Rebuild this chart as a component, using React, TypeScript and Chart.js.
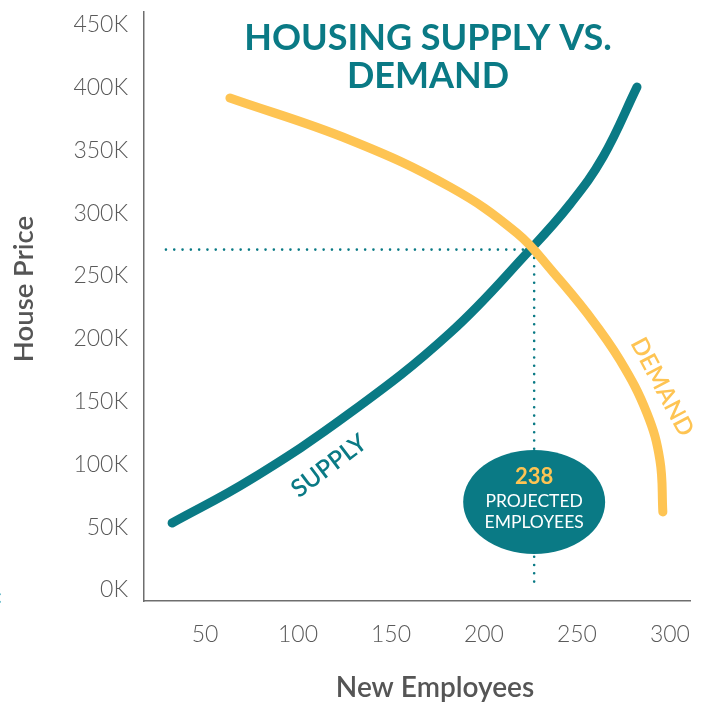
import React, { useEffect, useRef } from "react";
import { Chart, registerables } from "chart.js";

Chart.register(...registerables);

const xTicks = [50, 100, 150, 200, 250, 300];
const yTicks = [0, 50000, 100000, 150000, 200000, 250000, 300000, 350000, 400000, 450000];

const supplyX = [32.3, 74.2, 128, 181.7, 224.7, 246.2, 264, 282.3];
const supplyY = [53300, 87600, 140900, 204600, 270700, 307000, 344700, 400500];

const demandX = [63.4, 128, 181.7, 217.7, 237.1, 255.4, 273.1, 287.6, 294.6, 296.2];
const demandY = [391700, 358300, 320900, 284200, 253200, 220500, 183100, 140900, 103500, 62100];

const equilibriumX = 227;
const equilibriumY = 271000;
const guideStartX = 29;
const guideEndY = 6400;
const projectedEmployees = "238";
const bubbleY = 70000;

const TEAL = "#0a7a85";
const YELLOW = "#fec453";
const GRAY = "#5a5a5a";
const FONT = 'Lato, "Open Sans", sans-serif';

export default function App() {
  const ref = useRef<HTMLCanvasElement | null>(null);

  useEffect(() => {
    document.body.style.margin = "0";
    const canvas = ref.current;
    if (!canvas) return;

    const overlay = {
      id: "overlay",
      afterDatasetsDraw(chart: any) {
        const ctx = chart.ctx;
        const xs = chart.scales.x;
        const ys = chart.scales.y;
        ctx.save();
        // bubble
        const cx = xs.getPixelForValue(equilibriumX);
        const cy = ys.getPixelForValue(bubbleY);
        ctx.fillStyle = TEAL;
        ctx.beginPath();
        ctx.ellipse(cx, cy, 71, 52, 0, 0, Math.PI * 2);
        ctx.fill();
        ctx.textAlign = "center";
        ctx.textBaseline = "middle";
        ctx.fillStyle = YELLOW;
        ctx.font = `bold 22px ${FONT}`;
        ctx.fillText(projectedEmployees, cx, cy - 25);
        ctx.fillStyle = "#ffffff";
        ctx.font = `17.5px ${FONT}`;
        ctx.fillText("PROJECTED", cx, cy - 1);
        ctx.fillText("EMPLOYEES", cx, cy + 20);

        // title
        ctx.fillStyle = TEAL;
        ctx.font = `bold 36px ${FONT}`;
        ctx.fillText("HOUSING SUPPLY VS.", 428, 38);
        ctx.fillText("DEMAND", 428, 76);

        // curve labels
        ctx.font = `600 24.5px ${FONT}`;
        ctx.save();
        ctx.translate(329, 466);
        ctx.rotate((-37 * Math.PI) / 180);
        ctx.fillText("SUPPLY", 0, 0);
        ctx.restore();

        ctx.fillStyle = YELLOW;
        ctx.font = `600 24px ${FONT}`;
        ctx.save();
        ctx.translate(662, 387);
        ctx.rotate((62 * Math.PI) / 180);
        ctx.fillText("DEMAND", 0, 0);
        ctx.restore();

        // axis titles
        ctx.fillStyle = "#555555";
        ctx.font = `600 28px ${FONT}`;
        ctx.fillText("New Employees", 435, 688);
        ctx.save();
        ctx.translate(24, 289);
        ctx.rotate(-Math.PI / 2);
        ctx.font = `600 27.5px ${FONT}`;
        ctx.fillText("House Price", 0, 0);
        ctx.restore();

        ctx.fillStyle = "#3aa6b9";
        ctx.font = `20px ${FONT}`;
        ctx.textAlign = "left";
        ctx.fillText(":", -3, 597);
        ctx.restore();
      },
    };

    const chart = new Chart(canvas, {
      type: "line",
      data: {
        datasets: [
          {
            data: demandX.map((x, i) => ({ x, y: demandY[i] })),
            borderColor: YELLOW,
            borderWidth: 9,
            borderCapStyle: "round",
            borderJoinStyle: "round",
            pointRadius: 0,
            tension: 0.4,
            fill: false,
          },
          {
            data: supplyX.map((x, i) => ({ x, y: supplyY[i] })),
            borderColor: TEAL,
            borderWidth: 9,
            borderCapStyle: "round",
            borderJoinStyle: "round",
            pointRadius: 0,
            tension: 0.4,
            fill: false,
          },
          {
            data: [
              { x: guideStartX, y: equilibriumY },
              { x: equilibriumX, y: equilibriumY },
            ],
            borderColor: TEAL,
            borderWidth: 2.6,
            borderDash: [0, 8.3],
            borderCapStyle: "round",
            pointRadius: 0,
            tension: 0,
          },
          {
            data: [
              { x: equilibriumX, y: equilibriumY },
              { x: equilibriumX, y: guideEndY },
            ],
            borderColor: TEAL,
            borderWidth: 2.6,
            borderDash: [0, 8.3],
            borderCapStyle: "round",
            pointRadius: 0,
            tension: 0,
          },
        ],
      },
      options: {
        animation: false,
        responsive: false,
        layout: { padding: { top: 12, right: 18, left: 0, bottom: 0 } },
        plugins: { legend: { display: false }, tooltip: { enabled: false }, title: { display: false } },
        scales: {
          x: {
            type: "linear",
            min: 17.2,
            max: 310.8,
            grid: { display: false, drawTicks: false },
            border: { display: true, color: "#6e6e6e", width: 1.5 },
            afterBuildTicks: (s: any) => {
              s.ticks = xTicks.map((v) => ({ value: v }));
            },
            afterFit: (s: any) => {
              s.height = 101;
              s.paddingLeft = 0;
              s.paddingRight = 0;
            },
            ticks: { color: GRAY, font: { family: FONT, size: 23, weight: 300 }, padding: 20, maxRotation: 0 },
          },
          y: {
            type: "linear",
            min: -8800,
            max: 460200,
            grid: { display: false, drawTicks: false },
            border: { display: true, color: "#6e6e6e", width: 1.5 },
            afterBuildTicks: (s: any) => {
              s.ticks = yTicks.map((v) => ({ value: v }));
            },
            afterFit: (s: any) => {
              s.width = 144;
              s.paddingTop = 0;
              s.paddingBottom = 0;
            },
            ticks: {
              color: GRAY,
              font: { family: FONT, size: 23, weight: 300 },
              padding: 16,
              callback: (v: any) => `${Number(v) / 1000}K`,
            },
          },
        },
      },
      plugins: [overlay],
    } as any);

    return () => chart.destroy();
  }, []);

  return (
    <div style={{ width: 708, height: 702 }}>
      <canvas ref={ref} width={708} height={702} />
    </div>
  );
}
